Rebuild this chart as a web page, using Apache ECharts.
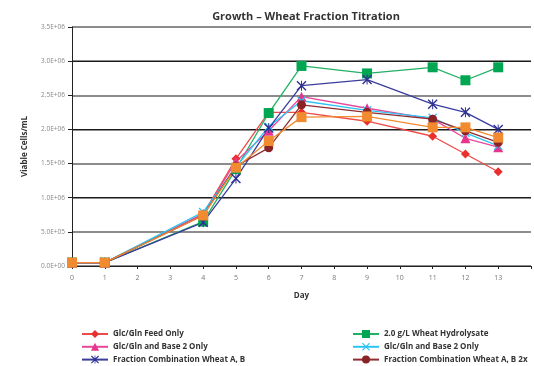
<!DOCTYPE html>
<html><head><meta charset="utf-8">
<script src="https://cdn.jsdelivr.net/npm/echarts@6/dist/echarts.min.js"></script>
<style>html,body{margin:0;padding:0;background:#fff}#c{width:534px;height:366px}</style>
</head><body><div id="c"></div>
<script>
const days = [0, 1, 4, 5, 6, 7, 9, 11, 12, 13];
const feedOnly      = [50000, 50000, 760000, 1570000, 2250000, 2250000, 2120000, 1900000, 1640000, 1380000];
const hydrolysate   = [50000, 50000, 650000, 1420000, 2240000, 2930000, 2820000, 2910000, 2720000, 2910000];
const base2Pink     = [50000, 50000, 760000, 1530000, 1980000, 2480000, 2310000, 2150000, 1870000, 1740000];
const base2Cyan     = [50000, 50000, 790000, 1450000, 2040000, 2420000, 2280000, 2170000, 1950000, 1760000];
const wheatAB       = [50000, 50000, 640000, 1280000, 2020000, 2640000, 2730000, 2370000, 2250000, 2000000];
const wheatAB2x     = [50000, 50000, 740000, 1460000, 1730000, 2360000, 2250000, 2150000, 1980000, 1810000];
const unlabeled     = [50000, 50000, 740000, 1440000, 1830000, 2180000, 2190000, 2030000, 2030000, 1880000];
const names = ['Glc/Gln Feed Only', '2.0 g/L Wheat Hydrolysate', 'Glc/Gln and Base 2 Only', 'Glc/Gln and Base 2 Only ', 'Fraction Combination Wheat A, B', 'Fraction Combination Wheat A, B 2x', 'Series 7'];

const pair = arr => days.map((d, i) => [d, arr[i]]);
function sci(v) {
  if (v === 0) return '0.0E+00';
  const e = Math.floor(Math.log10(v) + 1e-9);
  const m = v / Math.pow(10, e);
  return m.toFixed(1) + 'E+' + String(e).padStart(2, '0');
}
const ASTER = 'path://M4.5,0 L5.5,0 L5.5,10 L4.5,10 Z M0,1 L1,0 L10,9 L9,10 Z M9,0 L10,1 L1,10 L0,9 Z';
const CROSS = 'path://M0,1 L1,0 L10,9 L9,10 Z M9,0 L10,1 L1,10 L0,9 Z';
const styles = [
  {c: '#e8302e', lc: '#ee4a48', s: 'diamond', z: 9},
  {c: '#00a651', lc: '#22b063', s: 'rect', z: 10},
  {c: '#e5358d', lc: '#e8479a', s: 'triangle', z: 10},
  {c: '#2bc4f3', lc: '#2bc4f3', s: CROSS, z: 9},
  {c: '#2e3192', lc: '#3a3d9c', s: ASTER, z: 10},
  {c: '#892326', lc: '#8f2d30', s: 'circle', z: 9},
  {c: '#f28a30', lc: '#f28a30', s: 'rect', z: 10}
];
const datasets = [feedOnly, hydrolysate, base2Pink, base2Cyan, wheatAB, wheatAB2x, unlabeled];
const series = datasets.map((arr, i) => ({
  name: names[i], type: 'line', data: pair(arr), yAxisIndex: 0,
  symbol: styles[i].s, symbolSize: styles[i].z,
  lineStyle: {color: styles[i].lc, width: 1.3},
  itemStyle: {color: styles[i].c},
  emphasis: {disabled: true}, animation: false
}));
const font = '"Open Sans", "DejaVu Sans", sans-serif';
const legendText = {fontFamily: font, fontSize: 8, fontWeight: 'bold', color: '#333', lineHeight: 10};
const chart = echarts.init(document.getElementById('c'));
chart.setOption({
  animation: false,
  title: {text: 'Growth \u2013 Wheat Fraction Titration', left: 301, top: 6, textAlign: 'center',
    textStyle: {fontFamily: font, fontSize: 11, fontWeight: 'bold', color: '#333'}},
  grid: {left: 72, right: -8, top: 27, bottom: 100},
  xAxis: {type: 'value', min: 0, max: 14, interval: 1, name: 'Day', nameLocation: 'middle', nameGap: 26,
    nameTextStyle: {fontFamily: font, fontSize: 8, fontWeight: 'bold', color: '#333'},
    axisLine: {lineStyle: {color: '#222', width: 1}},
    axisTick: {show: true, length: 3, lineStyle: {color: '#222'}},
    axisLabel: {fontFamily: font, fontSize: 7, color: '#777', margin: 8, formatter: v => v <= 13 ? String(v) : ''},
    splitLine: {show: false}},
  yAxis: [
    {type: 'value', min: 0, max: 3500000, interval: 500000, name: 'Viable Cells/mL', nameLocation: 'middle', nameGap: 43,
      nameTextStyle: {fontFamily: font, fontSize: 8, fontWeight: 'bold', color: '#333'},
      axisLine: {show: true, lineStyle: {color: '#222', width: 1}},
      axisTick: {show: true, length: 4, lineStyle: {color: '#222'}},
      axisLabel: {fontFamily: font, fontSize: 6.5, color: '#888', margin: 7, formatter: v => sci(v)},
      splitLine: {show: true, lineStyle: {color: '#8c8c8c', width: 2}}},
    {type: 'value', min: 0, max: 3500000, interval: 1000000, position: 'left', show: true,
      axisLine: {show: false}, axisTick: {show: false}, axisLabel: {show: false},
      splitLine: {show: true, lineStyle: {color: ['#1a1a1a', '#1a1a1a', '#1a1a1a', '#1a1a1a', '#8c8c8c'], width: 1}}}
  ],
  legend: [
    {left: 76, top: 324, height: 42, orient: 'vertical', itemWidth: 26, itemHeight: 10, itemGap: 2.8,
      data: [names[0], names[2], names[4]], textStyle: legendText},
    {left: 347, top: 324, height: 42, orient: 'vertical', itemWidth: 26, itemHeight: 10, itemGap: 2.8,
      data: [names[1], names[3], names[5]], textStyle: legendText}
  ],
  series: series
});
</script></body></html>
